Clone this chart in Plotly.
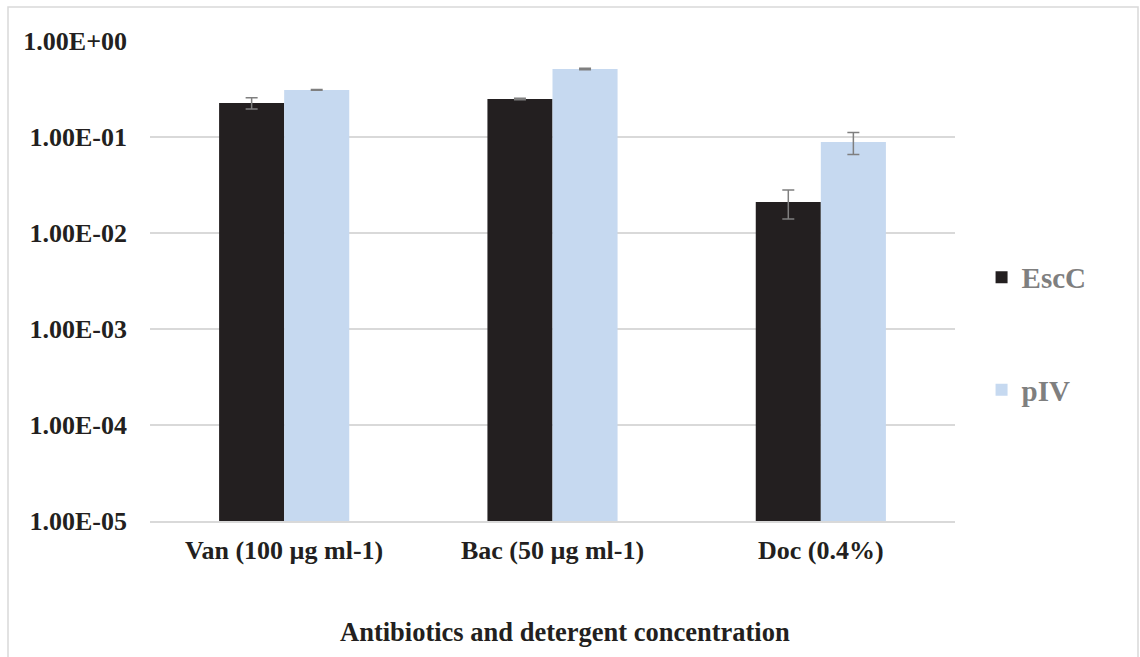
import plotly.graph_objects as go

categories = ["Van (100 µg ml-1)", "Bac (50 µg ml-1)", "Doc (0.4%)"]
escc_values = [0.226, 0.249, 0.021]
escc_errors = [0.03, 0.004, 0.007]
piv_values = [0.309, 0.511, 0.0887]
piv_errors = [0.003, 0.01, 0.023]
tick_vals = [1e0, 1e-1, 1e-2, 1e-3, 1e-4, 1e-5]
tick_text = ["1.00E+00", "1.00E-01", "1.00E-02", "1.00E-03", "1.00E-04", "1.00E-05"]
x_title = "Antibiotics and detergent concentration"

FONT = "Liberation Serif"

fig = go.Figure()
fig.add_trace(go.Bar(
    name="EscC", x=categories, y=escc_values, legendgroup="a",
    marker=dict(color="#231f20", line=dict(width=0)),
    error_y=dict(type="data", array=escc_errors, color="#7f7f7f", thickness=1.5, width=6),
))
fig.add_trace(go.Bar(
    name="pIV", x=categories, y=piv_values, legendgroup="b",
    marker=dict(color="#c6d9f0", line=dict(width=0)),
    error_y=dict(type="data", array=piv_errors, color="#7f7f7f", thickness=1.5, width=6),
))

fig.update_layout(
    width=1140, height=657,
    paper_bgcolor="white", plot_bgcolor="white",
    margin=dict(l=150, r=185, t=41, b=136),
    barmode="group", bargap=0.515, bargroupgap=0,
    font=dict(family=FONT, size=26, color="#231f20", weight="bold"),
    legend=dict(
        x=1.033, y=0.39, xanchor="left", yanchor="middle",
        font=dict(family=FONT, size=29, color="#7f7f7f", weight="bold"),
        tracegroupgap=72, traceorder="grouped",
        itemwidth=30,
        bgcolor="rgba(0,0,0,0)",
    ),
    shapes=[dict(type="rect", xref="paper", yref="paper",
                 x0=-142/805, x1=(1138-150)/805, y0=-140/480, y1=1+34/480,
                 line=dict(color="#d9d9d9", width=1.5), fillcolor="rgba(0,0,0,0)", layer="below")],
    annotations=[dict(text=x_title, xref="paper", yref="paper",
                      x=(565-150)/805, y=-(632-521)/480, xanchor="center", yanchor="middle",
                      showarrow=False,
                      font=dict(family=FONT, size=26.5, color="#231f20", weight="bold"))],
)
fig.update_xaxes(
    showgrid=False, showline=True, linecolor="#d9d9d9", linewidth=1.5,
    ticks="", ticklabelstandoff=5,
    tickfont=dict(family=FONT, size=26, color="#231f20", weight="bold"),
)
fig.update_yaxes(
    type="log", range=[-5, 0], tickvals=tick_vals, ticktext=tick_text,
    showgrid=True, gridcolor="#d9d9d9", gridwidth=1.5, zeroline=False,
    showline=False, ticks="", ticklabelstandoff=22,
    tickfont=dict(family=FONT, size=26, color="#231f20", weight="bold"),
)

fig.write_html("out.html")
